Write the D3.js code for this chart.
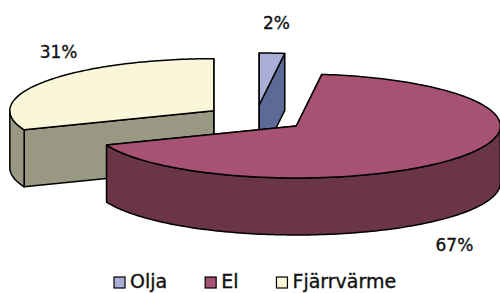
<!DOCTYPE html>
<html>
<head>
<meta charset="utf-8">
<script src="https://cdn.jsdelivr.net/npm/d3@7"></script>
<style>
  body { margin: 0; background: #fff; }
  text { font-family: "DejaVu Sans", sans-serif; fill: #111; stroke: #111; stroke-width: 0.35; }
</style>
</head>
<body>
<svg id="chart" width="500" height="293"></svg>
<script>
// data
const categories = ['Olja', 'El', 'Fjärrvärme'];
const shares = [2, 67, 31];
const pctLabels = ['2%', '67%', '31%'];
const topColors = ['#a9aed6', '#a75173', '#f9f6da'];
const sideColors = ['#5c6a95', '#6a3549', '#989883'];

const width = 500, height = 293;
// pseudo-3D geometry: flattened ellipse, extruded downwards
const cx = 256, cy = 118, rx = 204, ry = 52, depth = 57, explode = 0.25;

const svg = d3.select('#chart');

const slices = d3.pie().sort(null).value(d => d)(shares).map((p, i) => {
    const mid = (p.startAngle + p.endAngle) / 2;
    return {
        ...p, i, mid,
        ox: cx + rx * explode * Math.sin(mid),
        oy: cy - ry * explode * Math.cos(mid)
    };
});

function pt(s, a, dz = 0) {
    return [s.ox + rx * Math.sin(a), s.oy - ry * Math.cos(a) + dz];
}

function arcPts(s, a0, a1, dz = 0) {
    const n = Math.max(2, Math.ceil(Math.abs(a1 - a0) / 0.02));
    return d3.range(n + 1).map(k => pt(s, a0 + (a1 - a0) * k / n, dz));
}

const line = d3.line();

// back slices first
const order = slices.slice().sort((a, b) => a.oy - b.oy);

const g = svg.append('g')
    .attr('stroke', '#000')
    .attr('stroke-width', 1.5)
    .attr('stroke-linejoin', 'round');

order.forEach(s => {
    const sg = g.append('g');
    const apex = [s.ox, s.oy];
    const apexLow = [s.ox, s.oy + depth];

    // radial cut faces
    [s.startAngle, s.endAngle].forEach(a => {
        const r = pt(s, a), rl = pt(s, a, depth);
        sg.append('path')
            .attr('d', line([apex, r, rl, apexLow]) + 'Z')
            .attr('fill', sideColors[s.i]);
    });

    // outer wall, only the part facing the viewer
    const a0 = Math.max(s.startAngle, Math.PI / 2);
    const a1 = Math.min(s.endAngle, Math.PI * 1.5);
    if (a1 > a0) {
        const pts = arcPts(s, a0, a1).concat(arcPts(s, a0, a1, depth).reverse());
        sg.append('path')
            .attr('d', line(pts) + 'Z')
            .attr('fill', sideColors[s.i]);
    }

    // top face
    sg.append('path')
        .attr('d', line([apex].concat(arcPts(s, s.startAngle, s.endAngle))) + 'Z')
        .attr('fill', topColors[s.i]);
});

// percentage labels
svg.append('g').selectAll('text')
    .data(slices)
    .join('text')
    .attr('text-anchor', 'middle')
    .attr('font-size', 17)
    .attr('x', d => d.ox + rx * 0.95 * Math.sin(d.mid) + 5)
    .attr('y', d => {
        const rim = d.oy - ry * Math.cos(d.mid);
        return Math.cos(d.mid) > 0 ? rim - 30 : rim + depth + 30;
    })
    .attr('dy', '0.36em')
    .text(d => pctLabels[d.i]);

// legend
const legend = svg.append('g');
const items = legend.selectAll('g')
    .data(categories)
    .join('g');

items.append('rect')
    .attr('width', 11)
    .attr('height', 11)
    .attr('y', -11)
    .attr('fill', (d, i) => topColors[i])
    .attr('stroke', '#000')
    .attr('stroke-width', 1.2);

items.append('text')
    .attr('x', 16)
    .attr('font-size', 19)
    .text(d => d);

let xPos = 0;
const offsets = [];
items.each(function () {
    offsets.push(xPos);
    xPos += this.getBBox().width + 38;
});
items.attr('transform', (d, i) => `translate(${offsets[i]},0)`);
legend.attr('transform', 'translate(114,288)');
</script>
</body>
</html>
